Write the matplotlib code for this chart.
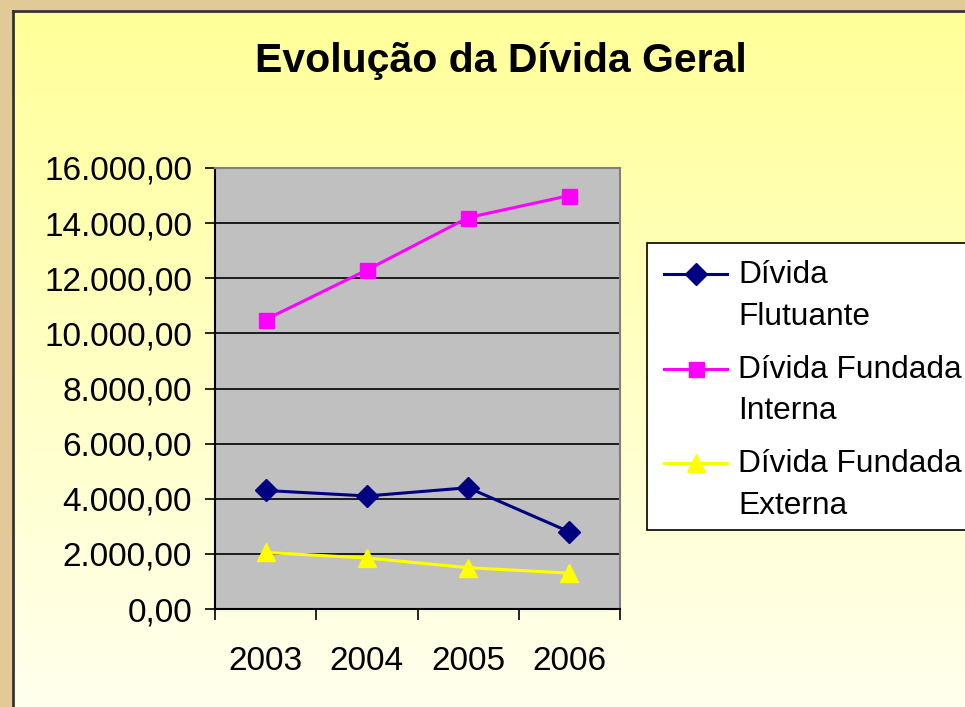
import numpy as np
import matplotlib
matplotlib.use('Agg')
import matplotlib.pyplot as plt
from matplotlib.lines import Line2D
from matplotlib.patches import Rectangle
from matplotlib.legend_handler import HandlerLine2D

plt.rcParams['font.family'] = ['Liberation Sans', 'DejaVu Sans']

years = ['2003', '2004', '2005', '2006']
flutuante = [4300, 4100, 4400, 2800]
fundada_interna = [10500, 12300, 14200, 15000]
fundada_externa = [2050, 1850, 1500, 1300]
y_ticks = [0, 2000, 4000, 6000, 8000, 10000, 12000, 14000, 16000]


def fmt_br(v):
    s = f'{v:,.2f}'
    return s.replace(',', 'X').replace('.', ',').replace('X', '.')


class HandlerTop(HandlerLine2D):
    # put the legend line level with the first line of a two-line label
    def __init__(self, shift, **kw):
        super().__init__(**kw)
        self.shift = shift

    def create_artists(self, legend, orig_handle, xdescent, ydescent, width, height, fontsize, trans):
        return super().create_artists(legend, orig_handle, xdescent, ydescent - 2 * self.shift,
                                      width, height, fontsize, trans)


W, H = 965, 707
fig = plt.figure(figsize=(W / 100, H / 100), dpi=100)
fig.patch.set_facecolor('#E2CA98')

# slide panel with vertical gradient
bg = fig.add_axes([12 / W, 0, 1 - 12 / W, 1 - 10 / H])
grad = np.linspace(0, 1, 256).reshape(-1, 1)
top = np.array([255, 255, 153]) / 255
bot = np.array([255, 255, 238]) / 255
img = top[None, None, :] * (1 - grad[:, :, None]) + bot[None, None, :] * grad[:, :, None]
bg.imshow(img, aspect='auto', extent=[0, 1, 0, 1], origin='upper')
bg.set_xlim(0, 1)
bg.set_ylim(0, 1)
bg.set_axis_off()
fig.add_artist(Line2D([12.5 / W, 12.5 / W], [0, 1 - 10.5 / H], transform=fig.transFigure,
                      color='#333333', lw=2))
fig.add_artist(Line2D([12.5 / W, 1], [1 - 10.5 / H, 1 - 10.5 / H], transform=fig.transFigure,
                      color='#333333', lw=2))

ax = fig.add_axes([215 / W, 1 - 609 / H, (620 - 215) / W, (609 - 168) / H])
ax.set_facecolor('#C0C0C0')
x = np.arange(len(years))

l1, = ax.plot(x, flutuante, color='#000080', lw=2.2, marker='D', ms=11.5, label='Dívida\nFlutuante', zorder=3)
l2, = ax.plot(x, fundada_interna, color='#FF00FF', lw=2.2, marker='s', ms=10.8, label='Dívida Fundada\nInterna', zorder=3)
l3, = ax.plot(x, fundada_externa, color='#FFFF00', lw=2.2, marker='^', ms=12.5, label='Dívida Fundada\nExterna', zorder=3)

ax.set_xlim(-0.5, len(years) - 0.5)
ax.set_ylim(0, 16000)
ax.set_yticks(y_ticks)
ax.set_yticklabels([fmt_br(v) for v in y_ticks], fontsize=24)
ax.yaxis.grid(True, color='black', lw=1.2)
ax.set_axisbelow(True)
ax.tick_params(axis='y', length=7, width=1.2, pad=9.5)

ax.set_xticks(x)
ax.set_xticklabels(years, fontsize=24)
ax.set_xticks(np.arange(-0.5, len(years)), minor=True)
ax.tick_params(axis='x', which='major', length=0, pad=26.5)
ax.tick_params(axis='x', which='minor', length=8, width=1.2)

for s in ['left', 'bottom']:
    ax.spines[s].set_color('black')
    ax.spines[s].set_linewidth(1.5)
for s in ['top', 'right']:
    ax.spines[s].set_color('#808080')
    ax.spines[s].set_linewidth(1.5)

fig.text(501 / W, 1 - 61 / H, 'Evolução da Dívida Geral', ha='center', va='center',
         fontsize=29.5, fontweight='bold')

# legend box (runs off the right edge as in the slide)
ax.add_patch(Rectangle((647 / W, 1 - 530 / H), 400 / W, (530 - 243) / H,
                       transform=fig.transFigure, facecolor='white', edgecolor='black',
                       lw=1.2, clip_on=False, zorder=4))

hmap = {h: HandlerTop(shift=16) for h in (l1, l2, l3)}
leg = ax.legend(loc='upper left', bbox_to_anchor=(647 / W, 1 - 243 / H),
                bbox_transform=fig.transFigure, borderaxespad=0, fontsize=22.8,
                frameon=False, handlelength=2.0,
                handletextpad=0.34, labelspacing=0.73, borderpad=0.54, handler_map=hmap)
leg.set_zorder(5)
for t in leg.get_texts():
    t.set_linespacing(1.5)

fig.savefig('out.png', dpi=100)
